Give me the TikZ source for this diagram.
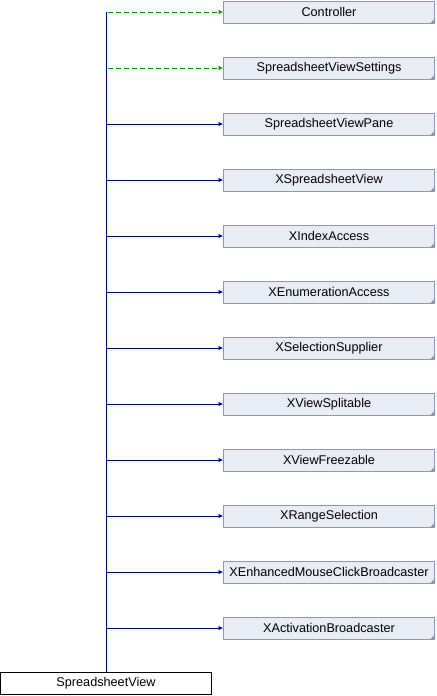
\documentclass[tikz,border=0pt]{standalone}
\usepackage{fontspec}
\setmainfont{Liberation Sans}
\usetikzlibrary{arrows.meta}
\definecolor{boxfill}{HTML}{E8ECF5}
\definecolor{boxdraw}{HTML}{8497C9}
\definecolor{inhblue}{HTML}{000099}
\definecolor{usegreen}{HTML}{009900}

\begin{document}
\begin{tikzpicture}[x=0.75pt,y=-0.75pt,
  classbox/.style={draw=boxdraw, fill=boxfill, line width=0.75pt, minimum width=158pt, minimum height=16.5pt, inner sep=0pt, font=\fontsize{9.5}{11}\selectfont},
  mainbox/.style={draw=black, fill=white, line width=0.75pt, minimum width=158pt, minimum height=16.5pt, inner sep=0pt, font=\fontsize{9.5}{11}\selectfont},
  inherit/.style={draw=inhblue, line width=0.75pt, -{Latex[length=3.5pt,width=3.5pt]}},
  uses/.style={draw=usegreen, line width=0.75pt, dash pattern=on 3.75pt off 2.25pt, -{Latex[length=3.5pt,width=3.5pt]}}
  ]
  \useasboundingbox (0,0) rectangle (436,696);

  % base classes and interfaces
  \foreach \name/\label [count=\i from 0] in {
      controller/Controller,
      settings/SpreadsheetViewSettings,
      pane/SpreadsheetViewPane,
      xview/XSpreadsheetView,
      xindex/XIndexAccess,
      xenum/XEnumerationAccess,
      xselect/XSelectionSupplier,
      xsplit/XViewSplitable,
      xfreeze/XViewFreezable,
      xrange/XRangeSelection,
      xmouse/XEnhancedMouseClickBroadcaster,
      xactive/XActivationBroadcaster} {
    \node[classbox] (\name) at (329,12+56*\i) {\label};
    \fill[boxdraw] (\name.south east) -- ++(-5,0) -- ++(5,-5) -- cycle;
  }

  \node[mainbox] (view) at (106,683.5) {SpreadsheetView};

  % connectors
  \foreach \name in {controller,settings}
    \draw[uses] ([xshift=1.5pt]view.north |- \name.west) -- (\name.west);
  \foreach \name in {pane,xview,xindex,xenum,xselect,xsplit,xfreeze,xrange,xmouse,xactive}
    \draw[inherit] (view.north |- \name.west) -- (\name.west);
  \draw[inhblue, line width=0.75pt] (view.north) -- (view.north |- controller.west);

\end{tikzpicture}
\end{document}
